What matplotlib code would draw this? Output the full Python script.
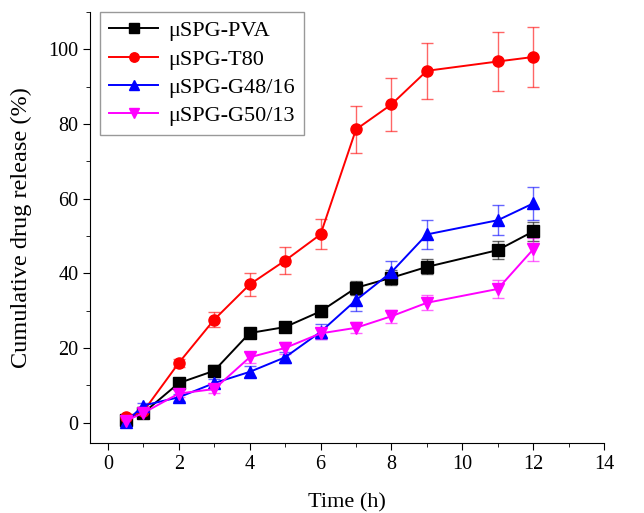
import matplotlib
matplotlib.use("Agg")
import matplotlib.pyplot as plt
from matplotlib.ticker import MultipleLocator

plt.rcParams['font.family'] = ['Liberation Serif', 'DejaVu Serif']

# release data
time_h = [0.5, 1, 2, 3, 4, 5, 6, 7, 8, 9, 11, 12]
pva = [0.8, 2.6, 10.6, 13.9, 24.0, 25.6, 29.8, 36.1, 38.8, 41.7, 46.2, 51.2]
pva_err = [0.8, 1.0, 1.2, 1.5, 1.2, 1.2, 1.5, 1.8, 2.0, 2.0, 2.5, 2.5]
t80 = [1.4, 3.0, 16.0, 27.6, 37.0, 43.4, 50.4, 78.5, 85.2, 94.2, 96.7, 97.9]
t80_err = [0.6, 0.8, 1.0, 2.0, 3.0, 3.5, 4.0, 6.3, 7.0, 7.5, 7.8, 7.9]
g48 = [0.1, 4.6, 6.8, 10.6, 13.6, 17.5, 24.3, 32.8, 40.3, 50.4, 54.2, 58.7]
g48_err = [0.8, 0.8, 1.0, 1.2, 1.5, 1.5, 2.0, 3.0, 3.0, 3.8, 4.0, 4.4]
g50 = [0.5, 2.6, 7.8, 9.0, 17.5, 20.0, 23.9, 25.4, 28.5, 32.1, 35.8, 46.4]
g50_err = [0.6, 0.8, 1.0, 1.0, 1.5, 1.5, 1.5, 1.5, 1.8, 2.0, 2.5, 3.0]

labels = ['μSPG-PVA', 'μSPG-T80', 'μSPG-G48/16', 'μSPG-G50/13']
series = [pva, t80, g48, g50]
errors = [pva_err, t80_err, g48_err, g50_err]
colors = ['black', 'red', 'blue', 'magenta']
markers = ['s', 'o', '^', 'v']

fig = plt.figure(figsize=(6.44, 5.13), dpi=100)
ax = fig.add_axes([0.14, 0.136, 0.798, 0.841])

handles = []
for y, e, c, m, lab in zip(series, errors, colors, markers, labels):
    cont = ax.errorbar(time_h, y, yerr=e, color=c, ecolor=c, elinewidth=1.0,
                       capsize=4, capthick=1.0, marker=m, markersize=8,
                       linewidth=1.4, label=lab)
    # lighter error bars
    for cap in cont[1]:
        cap.set_alpha(0.6)
    for bar in cont[2]:
        bar.set_alpha(0.6)
    handles.append(cont[0])

ax.set_xlim(-0.5, 14)
ax.set_ylim(-5.5, 110)
ax.xaxis.set_major_locator(MultipleLocator(2))
ax.xaxis.set_minor_locator(MultipleLocator(1))
ax.yaxis.set_major_locator(MultipleLocator(20))
ax.yaxis.set_minor_locator(MultipleLocator(10))
ax.spines['top'].set_visible(False)
ax.spines['right'].set_visible(False)
ax.tick_params(which='major', direction='out', length=5, labelsize=14.5)
ax.tick_params(which='minor', direction='out', length=3)

ax.set_xlabel('Time (h)', fontsize=16, labelpad=14)
ax.set_ylabel('Cumulative drug release (%)', fontsize=17.5, labelpad=12)

leg = ax.legend(handles, labels, loc='upper left', fontsize=16, frameon=True,
                fancybox=False, edgecolor='gray', handlelength=2.2,
                borderpad=0.4, labelspacing=0.35, handletextpad=0.45,
                borderaxespad=0, bbox_to_anchor=(0.02, 1.0), markerscale=0.85)
leg.get_frame().set_linewidth(1.0)

fig.savefig('out.png', dpi=100)
